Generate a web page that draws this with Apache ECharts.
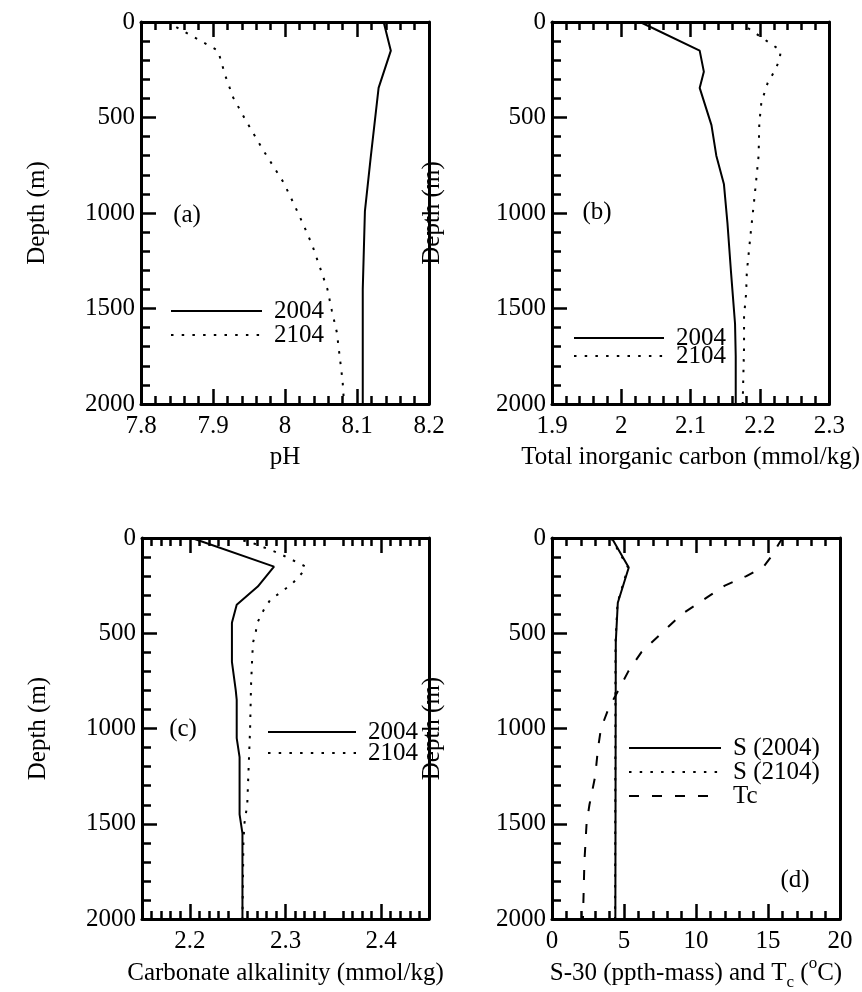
<!DOCTYPE html>
<html><head><meta charset="utf-8">
<script src="https://cdn.jsdelivr.net/npm/echarts@6/dist/echarts.min.js"></script>
<style>html,body{margin:0;padding:0;background:#fff}#c{width:862px;height:992px}</style>
</head><body><div id="c"></div>
<script>
// ---- data ----
const depthTicks = [0, 500, 1000, 1500, 2000];

// (a) pH
const depthPh2004 = [0, 150, 345, 710, 990, 1400, 2000];
const ph2004 = [8.137, 8.147, 8.130, 8.119, 8.111, 8.108, 8.108];
const depthPh2104 = [0, 150, 280, 395, 505, 673, 840, 950, 1065, 1170, 1290, 1400, 1510, 1625, 1880, 2000];
const ph2104 = [7.836, 7.907, 7.917, 7.928, 7.944, 7.970, 7.998, 8.012, 8.026, 8.038, 8.049, 8.059, 8.065, 8.072, 8.080, 8.082];

// (b) total inorganic carbon
const depthTic2004 = [0, 150, 260, 345, 540, 700, 850, 1050, 1300, 1580, 1750, 2000];
const tic2004 = [2.027, 2.113, 2.119, 2.113, 2.130, 2.137, 2.148, 2.153, 2.158, 2.164, 2.165, 2.165];
const depthTic2104 = [0, 150, 200, 250, 320, 420, 530, 700, 810, 920, 1090, 1200, 1310, 1420, 1540, 1700, 2000];
const tic2104 = [2.170, 2.230, 2.228, 2.222, 2.211, 2.202, 2.199, 2.198, 2.195, 2.192, 2.187, 2.184, 2.181, 2.180, 2.177, 2.177, 2.175];

// (c) carbonate alkalinity
const depthAlk2004 = [0, 150, 255, 350, 445, 650, 800, 850, 1050, 1150, 1450, 1550, 2000];
const alk2004 = [2.202, 2.288, 2.271, 2.249, 2.244, 2.244, 2.248, 2.249, 2.249, 2.252, 2.252, 2.255, 2.255];
const depthAlk2104 = [0, 25, 80, 150, 180, 240, 285, 325, 380, 440, 490, 550, 650, 770, 1000, 1400, 1500, 1600, 2000];
const alk2104 = [2.245, 2.265, 2.293, 2.321, 2.318, 2.307, 2.295, 2.284, 2.277, 2.271, 2.269, 2.266, 2.265, 2.264, 2.263, 2.260, 2.257, 2.256, 2.255];

// (d) salinity-30 and temperature
const depthS = [0, 155, 340, 545, 2000];
const s2004 = [4.15, 5.33, 4.57, 4.43, 4.40];
const s2104 = [4.10, 5.28, 4.55, 4.41, 4.38];
const depthTc = [0, 100, 150, 200, 250, 300, 400, 500, 600, 700, 800, 900, 1000, 1100, 1250, 1400, 1500, 1700, 2000];
const tc = [16.0, 15.2, 14.7, 13.5, 12.0, 11.0, 9.0, 7.6, 6.2, 5.3, 4.6, 3.9, 3.4, 3.2, 3.0, 2.6, 2.4, 2.25, 2.15];

const alkMajor = [2.2, 2.3, 2.4];

// ---- chart ----
const FONT = 'Liberation Serif';
const FS = 25;
const BLACK = '#000';
const grids = [
  {left: 141, top: 22, width: 288, height: 382},
  {left: 552, top: 22, width: 289, height: 382},
  {left: 142, top: 538, width: 287, height: 382},
  {left: 552, top: 538, width: 288, height: 382}
];
const axisLine = {show: true, onZero: false, lineStyle: {color: BLACK, width: 3}};
const tickStyle = {color: BLACK, width: 2.5};
const plain = v => String(Math.round(v * 1000) / 1000);

function xPair(gi, min, max, interval, split, name, extra) {
  extra = extra || {};
  const base = {
    gridIndex: gi, type: 'value', min: min, max: max, interval: interval,
    axisLine: axisLine, splitLine: {show: false}, minorSplitLine: {show: false},
    axisTick: Object.assign({show: true, inside: true, length: 15, lineStyle: tickStyle}, extra.tick || {}),
    minorTick: {show: true, splitNumber: split, length: 8, lineStyle: tickStyle}
  };
  const bottom = Object.assign({}, base, {
    position: 'bottom', name: name, nameLocation: 'middle', nameGap: 35,
    nameTextStyle: Object.assign({fontFamily: FONT, fontSize: FS, color: BLACK, lineHeight: 36}, extra.nameStyle || {}),
    axisLabel: Object.assign({fontFamily: FONT, fontSize: FS, color: BLACK, margin: 10, formatter: plain}, extra.label || {})
  });
  const top = Object.assign({}, base, {position: 'top', axisLabel: {show: false}});
  return [bottom, top];
}
function yPair(gi, nameGap) {
  const left = {
    gridIndex: gi, type: 'value', inverse: true, min: 0, max: 2000, interval: 500, position: 'left',
    name: 'Depth (m)', nameLocation: 'middle', nameGap: nameGap,
    nameTextStyle: {fontFamily: FONT, fontSize: FS, color: BLACK},
    axisLine: axisLine, splitLine: {show: false},
    axisTick: {show: true, inside: true, length: 15, lineStyle: tickStyle},
    minorTick: {show: true, splitNumber: 5, length: 9, lineStyle: tickStyle},
    axisLabel: {fontFamily: FONT, fontSize: FS, color: BLACK, margin: 6, formatter: plain}
  };
  const right = {
    gridIndex: gi, type: 'value', inverse: true, min: 0, max: 2000, position: 'right',
    axisLine: axisLine, axisTick: {show: false}, axisLabel: {show: false}, splitLine: {show: false}
  };
  return [left, right];
}

const xAxes = [].concat(
  xPair(0, 7.8, 8.2, 0.1, 5, 'pH'),
  xPair(1, 1.9, 2.3, 0.1, 5, 'Total inorganic carbon (mmol/kg)'),
  xPair(2, 2.15, 2.45, 0.05, 5, 'Carbonate alkalinity (mmol/kg)',
    {tick: {customValues: alkMajor}, label: {customValues: alkMajor}}),
  xPair(3, 0, 20, 5, 5, 'S-30 (ppth-mass) and T{sub|c} ({sup|o}C)',
    {nameStyle: {rich: {
      sub: {fontFamily: FONT, fontSize: 17, lineHeight: 17, verticalAlign: 'bottom', color: BLACK},
      sup: {fontFamily: FONT, fontSize: 17, lineHeight: 17, verticalAlign: 'top', color: BLACK}
    }}})
);
const yAxes = [].concat(yPair(0, 91), yPair(1, 107), yPair(2, 91), yPair(3, 107));

const DOT = [2.5, 8.2];
const DASH = [10, 13];
function ser(name, gi, xs, ds, type) {
  return {
    type: 'line', name: name, xAxisIndex: gi * 2, yAxisIndex: gi * 2,
    data: xs.map((v, i) => [v, ds[i]]), symbol: 'none', silent: true,
    lineStyle: {color: BLACK, width: 2, type: type, cap: 'butt'}, itemStyle: {color: BLACK}
  };
}
const series = [
  ser('2004', 0, ph2004, depthPh2004, 'solid'),
  ser('2104', 0, ph2104, depthPh2104, DOT),
  ser('2004', 1, tic2004, depthTic2004, 'solid'),
  ser('2104', 1, tic2104, depthTic2104, DOT),
  ser('2004', 2, alk2004, depthAlk2004, 'solid'),
  ser('2104', 2, alk2104, depthAlk2104, DOT),
  ser('S (2104)', 3, s2104, depthS, DOT),
  ser('S (2004)', 3, s2004, depthS, 'solid'),
  ser('Tc', 3, tc, depthTc, DASH)
];

function legend(names, left, centerY, w, gap) {
  return {
    data: names, left: left, top: centerY - 12.5, orient: 'vertical', itemWidth: w, itemHeight: 10, itemGap: gap,
    selectedMode: false, padding: 0,
    itemStyle: {opacity: 0, borderWidth: 0},
    textStyle: {fontFamily: FONT, fontSize: FS, color: BLACK, padding: [0, 0, 0, 7]}
  };
}

const labelText = (t, x, y) => ({
  type: 'text', x: x, y: y, silent: true,
  style: {text: t, fontFamily: FONT, fontSize: FS, fill: BLACK, align: 'center', verticalAlign: 'middle'}
});

const chart = echarts.init(document.getElementById('c'), null, {renderer: 'canvas'});
chart.setOption({
  animation: false,
  backgroundColor: '#fff',
  grid: grids.map(g => Object.assign({show: false, containLabel: false}, g)),
  xAxis: xAxes,
  yAxis: yAxes,
  series: series,
  legend: [
    legend(['2004', '2104'], 170, 311, 91, -1),
    legend(['2004', '2104'], 573, 338, 90, -7),
    legend(['2004', '2104'], 267, 732, 88, -4),
    legend(['S (2004)', 'S (2104)', 'Tc'], 628, 748, 92, -1)
  ],
  graphic: [
    labelText('(a)', 187, 215),
    labelText('(b)', 597, 212),
    labelText('(c)', 183, 729),
    labelText('(d)', 795, 880)
  ]
});
</script>
</body></html>
